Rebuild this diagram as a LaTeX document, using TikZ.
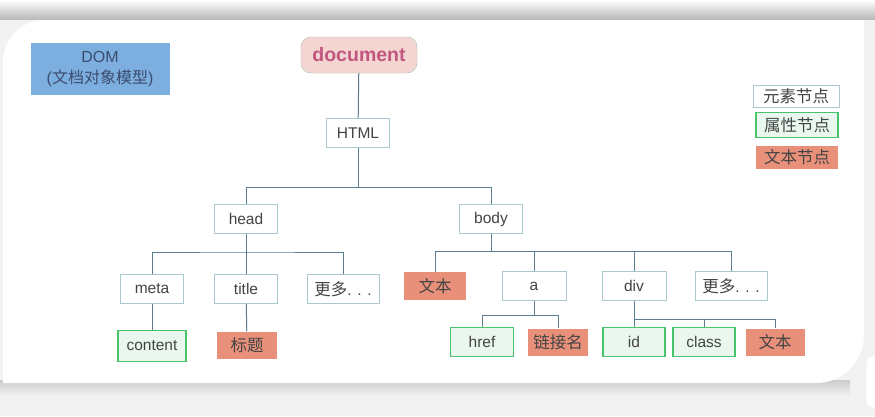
\documentclass[tikz,border=0pt]{standalone}
\usepackage{fontspec}
\setmainfont{Liberation Sans}
\newfontfamily\cjk{Noto Sans CJK SC}
\newcommand\zh[1]{{\cjk\fontsize{16.5}{18}\selectfont #1}}
\definecolor{bgc}{HTML}{F2F2F2}
\definecolor{txt}{HTML}{444444}
\definecolor{edgeline}{HTML}{5B7C91}
\definecolor{elemline}{HTML}{A9C9CF}
\definecolor{attrline}{HTML}{45C46A}
\definecolor{attrfill}{HTML}{E9F7EE}
\definecolor{salmon}{HTML}{E9907B}
\definecolor{docfill}{HTML}{F5D5D2}
\definecolor{docline}{HTML}{A8BFAE}
\definecolor{doctxt}{HTML}{C0577E}
\definecolor{domfill}{HTML}{7DAEE0}
\definecolor{domtxt}{HTML}{3B4D6E}
\begin{document}
\begin{tikzpicture}[x=1pt,y=1pt,
  every node/.style={font=\fontsize{15.5}{18}\selectfont, text=txt, inner sep=0pt},
  elem/.style={draw=elemline, fill=white, line width=1pt, minimum width=63pt, minimum height=29pt},
  attr/.style={draw=attrline, fill=attrfill, line width=1.6pt, minimum width=63pt, minimum height=29pt},
  txtn/.style={fill=salmon, minimum width=60pt, minimum height=27pt},
  edge/.style={draw=edgeline, line width=1pt}]
\useasboundingbox (0,0) rectangle (875,-416);

% card behind the tree
\fill[bgc] (0,0) rectangle (875,-416);
\shade[top color=white, bottom color=gray!55] (0,0) rectangle (875,-19);
\shade[top color=gray!40, bottom color=bgc] (0,-380) rectangle (850,-396);
\fill[white] (3,-62) arc[start angle=180, end angle=90, radius=42] -- (864,-20)
  -- (864,-335) arc[start angle=0, end angle=-90, radius=48] -- (3,-383) -- cycle;
\filldraw[fill=white, draw=gray!20, rounded corners=6] (866,-356) rectangle (892,-408);

% title boxes
\node[fill=domfill, minimum width=139pt, minimum height=52pt, align=center,
  text=domtxt, font=\fontsize{16}{21}\selectfont] (dom) at (100,-69) {DOM\\({\cjk 文档对象模型})};
\node[draw=docline, fill=docfill, rounded corners=10pt, minimum width=116pt, minimum height=36pt,
  text=doctxt, font=\fontsize{19.5}{22}\selectfont\bfseries] (doc) at (359,-55) {document};

% legend
\node[elem, minimum width=86pt, minimum height=22pt] (leg1) at (796,-96) {\zh{元素节点}};
\node[attr, minimum width=82pt, minimum height=25pt] (leg2) at (797,-125) {\zh{属性节点}};
\node[txtn, minimum width=82pt, minimum height=23pt] (leg3) at (797,-157) {\zh{文本节点}};

% element nodes
\node[elem] (html) at (358,-133) {HTML};
\node[elem] (head) at (246,-219) {head};
\node[elem] (body) at (491,-219) {body};
\node[elem] (meta) at (152,-289) {meta};
\node[elem] (title) at (246,-289) {title};
\node[elem, minimum width=72pt] (more1) at (343,-289) {\zh{更多}. . .};
\node[elem, minimum width=64pt] (a) at (534,-286) {a};
\node[elem, minimum width=64pt] (div) at (634,-286) {div};
\node[elem, minimum width=72pt] (more2) at (731,-286) {\zh{更多}. . .};

% attribute and text nodes
\node[attr, minimum width=68pt, minimum height=31pt] (content) at (152,-346) {content};
\node[txtn] (titletxt) at (247,-345) {\zh{标题}};
\node[txtn, minimum width=62pt, minimum height=28pt] (btxt) at (435,-286) {\zh{文本}};
\node[attr] (href) at (482,-342) {href};
\node[txtn] (linktxt) at (558,-342) {\zh{链接名}};
\node[attr, minimum width=62pt] (id) at (634,-342) {id};
\node[attr, minimum width=62pt] (cls) at (704,-342) {class};
\node[txtn, minimum width=59pt] (divtxt) at (775,-342) {\zh{文本}};

% bars
\coordinate (hbar) at (0,-187);
\coordinate (hdbar) at (0,-252);
\coordinate (bdbar) at (0,-251);
\coordinate (abar) at (0,-315);
\coordinate (dbar) at (0,-319);

\draw[edge] (doc) -- (html);
\draw[edge] (html.south) -- (html.south |- hbar) -| (head.north);
\draw[edge] (html.south |- hbar) -| (body.north);

\draw[edge] (head) -- (title);
\draw[edge] (meta.north) |- (hdbar -| head) -| (more1.north);
\draw[edge] (meta) -- (content);
\draw[edge] (title) -- (titletxt);

\draw[edge] (body.south) -- (body.south |- bdbar);
\draw[edge] (btxt.north) |- (bdbar -| more2) -- (more2.north);
\draw[edge] (a.north) -- (a.north |- bdbar);
\draw[edge] (div.north) -- (div.north |- bdbar);

\draw[edge] (a.south) -- (a.south |- abar);
\draw[edge] (href.north) |- (abar -| linktxt) -- (linktxt.north);

\draw[edge] (div) -- (id);
\draw[edge] (div.south |- dbar) -| (divtxt.north);
\draw[edge] (cls.north) -- (cls.north |- dbar);

\end{tikzpicture}
\end{document}
